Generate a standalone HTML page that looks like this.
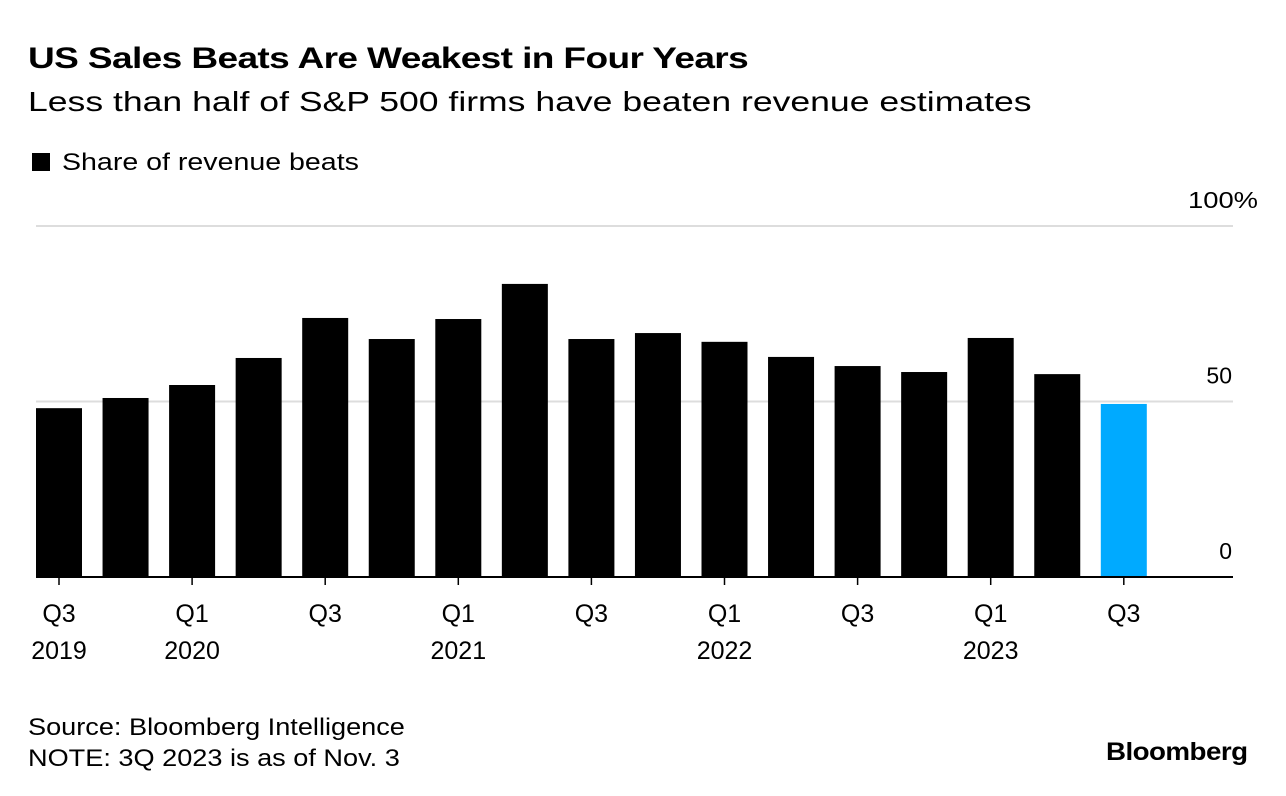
<!DOCTYPE html>
<html><head><meta charset="utf-8"><style>
body{margin:0;background:#fff;font-family:"Liberation Sans",sans-serif;}
#c{position:relative;width:1286px;height:796px;overflow:hidden}
.t{position:absolute;white-space:nowrap;color:#000;transform-origin:0 0}
</style></head><body>
<div id="c">
<div class="t" style="left:28px;top:42px;font-size:30px;font-weight:bold;letter-spacing:-0.5px;transform:scaleX(1.235)">US Sales Beats Are Weakest in Four Years</div>
<div class="t" style="left:28px;top:86px;font-size:28px;transform:scaleX(1.27)">Less than half of S&amp;P 500 firms have beaten revenue estimates</div>
<div class="t" style="left:32px;top:149px;font-size:24px"><span style="display:inline-block;width:18px;height:18px;background:#000;margin-right:12px;vertical-align:-1px"></span><span style="display:inline-block;transform:scaleX(1.19);transform-origin:0 0">Share of revenue beats</span></div>
<svg id="s" width="1286" height="796" style="position:absolute;left:0;top:0"></svg>
<div class="t" style="left:28px;top:712px;font-size:24px;line-height:31px;transform:scaleX(1.13)">Source: Bloomberg Intelligence<br>NOTE: 3Q 2023 is as of Nov. 3</div>
<div class="t" style="left:1106px;top:738px;font-size:25px;font-weight:bold;letter-spacing:-0.5px;transform:scaleX(1.11)">Bloomberg</div>
</div>
<script>
const values=[48.1,51.0,54.7,62.4,73.8,67.8,73.5,83.5,67.8,69.5,67.0,62.7,60.1,58.4,68.1,57.8,49.3];
const yTicks=[0,50,100];
const yTickLabels=["0","50","100%"];
const xLabels=[["Q3","2019"],["",""],["Q1","2020"],["",""],["Q3",""],["",""],["Q1","2021"],["",""],["Q3",""],["",""],["Q1","2022"],["",""],["Q3",""],["",""],["Q1","2023"],["",""],["Q3",""]];
const svg=document.getElementById('s');const NS='http://www.w3.org/2000/svg';
const y0=577,pxPer=3.51,x0=36,step=66.55,bw=46;
const yS=v=>y0-v*pxPer;const xS=i=>x0+i*step;
function mk(t,a){const e=document.createElementNS(NS,t);for(const k in a)e.setAttribute(k,a[k]);svg.appendChild(e);return e;}
yTicks.forEach((v,i)=>{
 if(v>0){const g=mk('line',{x1:36,x2:1233,y1:yS(v),y2:yS(v),stroke:'#ddd','stroke-width':2});
 
 }
 const t=mk('text',{x:v==100?1188:1232,y:yS(v)-18,'font-size':23,'font-family':'Liberation Sans','text-anchor':v==100?'start':'end',fill:'#000',textLength:v==100?70:null,lengthAdjust:'spacingAndGlyphs'});
 if(v!=100)t.removeAttribute('textLength');
 t.textContent=yTickLabels[i];
 
 
});
values.forEach((v,i)=>{
 const r=mk('rect',{x:xS(i),y:yS(v),width:bw,height:v*pxPer,fill:i==values.length-1?'#00aaff':'#000'});
 
 
 const cx=xS(i)+bw/2;
 if(xLabels[i][0]){
  const tk=mk('line',{x1:cx,x2:cx,y1:y0,y2:y0+8,stroke:'#000','stroke-width':1.5});
  
  
  xLabels[i].forEach((s,j)=>{if(!s)return;
   const t=mk('text',{x:cx,y:622+j*37,'font-size':25,'font-family':'Liberation Sans','text-anchor':'middle',fill:'#000'});
   t.textContent=s;
   
   });
 }
});
const b=mk('line',{x1:36,x2:1233,y1:y0,y2:y0,stroke:'#000','stroke-width':2});


</script>
</body></html>
